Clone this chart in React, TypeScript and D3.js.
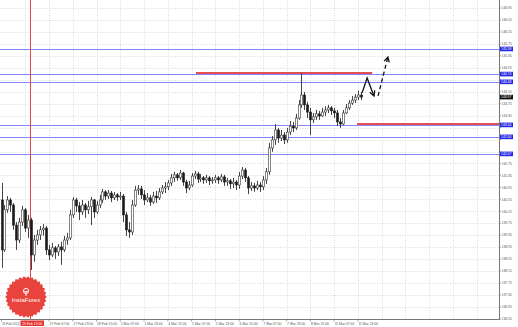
import React from "react";
import * as d3 from "d3";

// GBP/JPY style H2 candles (prices)
const FIRST_OPEN = 140.53;
const CLOSE = [
  138.86, 140.2, 140.53, 140.36, 139.69, 139.19, 139.79, 140.2, 139.59, 139.86,
  138.69, 139.19, 139.36, 139.53, 139.59, 138.86, 138.69, 138.93, 138.79, 138.96,
  138.86, 139.19, 139.26, 140.03, 140.53, 140.33, 140.13, 140.36, 140.2, 140.3,
  140.53, 140.13, 140.36, 140.53, 140.8, 140.66, 140.76, 140.6, 140.7, 140.63,
  140.66, 140.03, 139.53, 139.46, 140.36, 140.86, 140.9, 140.7, 140.53, 140.6,
  140.46, 140.66, 140.6, 140.8, 140.93, 140.97, 141.1, 141.27, 141.37, 141.27,
  141.43, 141.13, 140.93, 141.03, 141.33, 141.4, 141.23, 141.27, 141.2, 141.27,
  141.17, 141.2, 141.27, 141.2, 141.3, 141.13, 141.17, 141.07, 141.13, 141.03,
  141.33, 141.53, 141.27, 140.93, 141.0, 140.93, 141.03, 140.97, 141.2, 141.47,
  142.27, 142.54, 142.87, 142.6, 142.7, 142.54, 142.8, 143.0, 142.94, 143.27,
  143.71, 144.04, 143.71, 143.47, 143.21, 143.31, 143.41, 143.34, 143.47, 143.54,
  143.61, 143.51, 143.44, 143.14, 143.07, 143.44, 143.61, 143.77, 143.87, 143.97,
  144.04, 143.97,
];
const HIGH = [
  141.1, 140.36, 140.66, 140.6, 140.43, 139.79, 139.93, 140.33, 140.26, 140.03,
  139.93, 139.36, 139.53, 139.66, 139.73, 139.66, 139.03, 139.09, 138.99, 139.06,
  139.13, 139.33, 139.43, 140.2, 140.63, 140.6, 140.46, 140.53, 140.43, 140.5,
  140.63, 140.56, 140.5, 140.7, 140.9, 140.86, 140.86, 140.83, 140.8, 140.76,
  140.8, 140.73, 140.13, 139.79, 140.53, 141.0, 141.03, 141.0, 140.86, 140.76,
  140.7, 140.8, 140.83, 140.93, 141.03, 141.13, 141.2, 141.4, 141.47, 141.43,
  141.53, 141.47, 141.2, 141.17, 141.43, 141.5, 141.47, 141.4, 141.33, 141.37,
  141.33, 141.3, 141.37, 141.33, 141.4, 141.37, 141.27, 141.23, 141.27, 141.2,
  141.47, 141.63, 141.6, 141.33, 141.13, 141.1, 141.17, 141.13, 141.33, 141.6,
  142.44, 142.67, 143.07, 142.94, 142.87, 142.8, 142.94, 143.17, 143.14, 143.41,
  143.87, 144.78, 144.14, 143.81, 143.61, 143.44, 143.54, 143.51, 143.61, 143.67,
  143.71, 143.67, 143.61, 143.54, 143.27, 143.54, 143.74, 143.87, 144.01, 144.07,
  144.18, 144.14,
];
const LOW = [
  138.26, 138.79, 140.1, 140.13, 139.53, 138.86, 139.09, 139.66, 139.46, 139.26,
  138.19, 138.46, 139.03, 139.19, 139.33, 138.69, 138.52, 138.62, 138.56, 138.66,
  138.36, 138.79, 139.03, 139.19, 139.93, 140.13, 139.86, 140.03, 139.93, 140.06,
  139.69, 139.93, 140.06, 140.26, 140.43, 140.53, 140.56, 140.46, 140.53, 140.5,
  140.53, 139.79, 139.33, 139.26, 139.36, 140.3, 140.7, 140.56, 140.36, 140.46,
  140.33, 140.4, 140.43, 140.53, 140.73, 140.76, 140.86, 141.0, 141.13, 141.17,
  141.2, 141.0, 140.76, 140.86, 140.97, 141.23, 141.1, 141.13, 141.07, 141.1,
  141.03, 141.07, 141.1, 141.07, 141.13, 141.0, 141.0, 140.9, 140.93, 140.86,
  140.9, 141.23, 141.13, 140.73, 140.83, 140.8, 140.86, 140.8, 140.86, 141.07,
  141.37, 142.14, 142.37, 142.44, 142.5, 142.4, 142.44, 142.7, 142.8, 142.87,
  143.21, 143.61, 143.54, 143.27, 142.7, 143.1, 143.21, 143.21, 143.31, 143.34,
  143.44, 143.37, 143.27, 143.0, 142.94, 143.04, 143.41, 143.54, 143.71, 143.77,
  143.87, 143.87,
];

const PRICE_TICKS = [
  146.95, 146.55, 146.15, 145.75, 145.35, 144.95, 144.55, 144.15, 143.75,
  143.35, 142.95, 142.55, 142.15, 141.75, 141.35, 140.95, 140.55, 140.15,
  139.75, 139.35, 138.95, 138.55, 138.15, 137.75, 137.35, 136.95, 136.55,
];
const TIME_LABELS = [
  "26 Feb 2013", "26 Feb 15:00", "27 Feb 07:00", "27 Feb 23:00", "28 Feb 15:00",
  "1 Mar 07:00", "1 Mar 23:00", "4 Mar 15:00", "5 Mar 07:00", "5 Mar 23:00",
  "6 Mar 15:00", "7 Mar 07:00", "7 Mar 23:00", "8 Mar 15:00", "11 Mar 07:00",
  "11 Mar 23:00",
];
const BARS_PER_LABEL = 8;
const LEVELS = [145.58, 144.74, 144.48, 143.04, 142.64, 142.07];
const LAST_PRICE = 143.97;
const RED_LEVELS = [
  { price: 144.78, from: 65.5, to: 124.8 },
  { price: 143.07, from: 119.7, to: 170 },
];
const VLINE_BAR = 9.6;
const VLINE_LABEL = "26 Feb 19:00";
const ARROW_SOLID: [number, number][] = [
  [121.4, 144.11],
  [123.1, 144.61],
  [125.4, 144.01],
];
const ARROW_DASHED: [number, number][] = [
  [126.8, 144.01],
  [130.1, 145.31],
];

const W = 518;
const H = 327;
const RIGHT = 499;
const BOTTOM = 319.5;

export default function App() {
  const x = d3.scaleLinear().domain([0, 121]).range([1.5, 1.5 + 121 * 2.97]);
  const y = d3
    .scaleLinear()
    .domain([146.95, 136.55])
    .range([8, 8 + 26 * 11.96]);

  const candles = CLOSE.map((c, i) => {
    const o = i === 0 ? FIRST_OPEN : CLOSE[i - 1];
    const h = Math.max(HIGH[i], o, c);
    const l = Math.min(LOW[i], o, c);
    return { i, o, h, l, c };
  });

  const gridBars: number[] = [];
  for (let k = 0; x(k * BARS_PER_LABEL) < RIGHT; k++) gridBars.push(k * BARS_PER_LABEL);

  const line = d3
    .line<[number, number]>()
    .x((d) => x(d[0]))
    .y((d) => y(d[1]));

  const arrowHead = (pts: [number, number][]) => {
    const a = pts[pts.length - 2];
    const b = pts[pts.length - 1];
    const x1 = x(a[0]), y1 = y(a[1]), x2 = x(b[0]), y2 = y(b[1]);
    const ang = Math.atan2(y2 - y1, x2 - x1);
    const L = 5.5;
    const p1 = [x2 - L * Math.cos(ang - 0.5), y2 - L * Math.sin(ang - 0.5)];
    const p2 = [x2 - L * Math.cos(ang + 0.5), y2 - L * Math.sin(ang + 0.5)];
    return `M${p1[0]},${p1[1]}L${x2},${y2}L${p2[0]},${p2[1]}`;
  };

  // seal logo
  const sealCx = 26, sealCy = 297;
  const sealPts: [number, number][] = [];
  const teeth = 30;
  for (let k = 0; k < teeth * 2; k++) {
    const r = k % 2 === 0 ? 20.8 : 19;
    const a = (Math.PI * k) / teeth;
    sealPts.push([sealCx + r * Math.cos(a), sealCy + r * Math.sin(a)]);
  }

  const fontFamily = "'Liberation Sans', Arial, sans-serif";
  const vx = x(VLINE_BAR);
  const boxYs = [...LEVELS, LAST_PRICE].map((p) => y(p));
  const tickVisible = (p: number) => boxYs.every((by) => Math.abs(by - y(p)) > 4.2);
  const labelVisible = (k: number) => Math.abs(x(k * BARS_PER_LABEL) - vx) > 16;
  const redBoxX = 20.5;
  const redBoxW = 23.5;

  return (
    <svg
      width={W}
      height={H}
      style={{ position: "absolute", left: 0, top: 0, background: "#fff" }}
    >
      <defs>
        <clipPath id="plot">
          <rect x={0} y={0} width={RIGHT} height={BOTTOM} />
        </clipPath>
      </defs>
      <rect width={W} height={H} fill="#fff" />
      {/* grid */}
      <g stroke="#d2d2d2" strokeWidth={0.8} strokeDasharray="1,1.5">
        {PRICE_TICKS.map((p) => (
          <line key={p} x1={0} x2={RIGHT} y1={Math.round(y(p)) + 0.5} y2={Math.round(y(p)) + 0.5} />
        ))}
        {gridBars.slice(1).map((b) => (
          <line key={b} x1={Math.round(x(b)) + 0.5} x2={Math.round(x(b)) + 0.5} y1={0} y2={BOTTOM} />
        ))}
      </g>
      <g clipPath="url(#plot)">
        {/* levels */}
        {LEVELS.map((p) => (
          <line key={p} x1={0} x2={RIGHT} y1={Math.round(y(p)) + 0.5} y2={Math.round(y(p)) + 0.5} stroke="#8585f7" strokeWidth={1} />
        ))}
        {RED_LEVELS.map((r, k) => (
          <line key={k} x1={x(r.from)} x2={Math.min(RIGHT, x(r.to))} y1={y(r.price)} y2={y(r.price)} stroke="#e2504f" strokeWidth={2} />
        ))}
        {/* vertical red line */}
        <line x1={Math.round(vx) + 0.5} x2={Math.round(vx) + 0.5} y1={0} y2={BOTTOM} stroke="#e04848" strokeWidth={1} />
        {/* candles */}
        {candles.map((d) => {
          const cx = Math.round(x(d.i)) + 0.5;
          const top = y(Math.max(d.o, d.c));
          const bot = y(Math.min(d.o, d.c));
          const bull = d.c >= d.o;
          return (
            <g key={d.i}>
              <line x1={cx} x2={cx} y1={y(d.h)} y2={y(d.l)} stroke="#454545" strokeWidth={1} />
              <rect
                x={cx - 1}
                y={top}
                width={2}
                height={Math.max(1, bot - top)}
                fill={bull ? "#ffffff" : "#1a1a1a"}
                stroke={bull ? "#333" : "#1a1a1a"}
                strokeWidth={0.6}
              />
            </g>
          );
        })}
        {/* hand-drawn arrows */}
        <path d={line(ARROW_SOLID) || ""} fill="none" stroke="#111" strokeWidth={1.3} />
        <path d={arrowHead(ARROW_SOLID)} fill="none" stroke="#111" strokeWidth={1.3} />
        <path d={line(ARROW_DASHED) || ""} fill="none" stroke="#111" strokeWidth={1.3} strokeDasharray="4,3" />
        <path d={arrowHead(ARROW_DASHED)} fill="none" stroke="#111" strokeWidth={1.3} />
      </g>
      {/* axes */}
      <line x1={RIGHT + 0.5} x2={RIGHT + 0.5} y1={0} y2={BOTTOM + 0.5} stroke="#777" strokeWidth={1} />
      <line x1={0} x2={RIGHT + 0.5} y1={BOTTOM} y2={BOTTOM} stroke="#777" strokeWidth={1} />
      <g fontFamily={fontFamily} fontSize={3.4} fill="#555">
        {PRICE_TICKS.map((p) => (
          <g key={p}>
            <line x1={RIGHT} x2={RIGHT + 2} y1={y(p)} y2={y(p)} stroke="#777" strokeWidth={0.6} />
            {tickVisible(p) && (
              <text x={RIGHT + 2.5} y={y(p) + 1.2}>
                {p.toFixed(2)}
              </text>
            )}
          </g>
        ))}
        {TIME_LABELS.map((t, k) => {
          const bx = x(k * BARS_PER_LABEL);
          return (
            <g key={t}>
              <line x1={bx} x2={bx} y1={BOTTOM} y2={BOTTOM + 2} stroke="#777" strokeWidth={0.6} />
              {labelVisible(k) && (
                <text x={bx + 0.5} y={325} fontSize={k === 0 ? 3.1 : 3.4}>
                  {t}
                </text>
              )}
            </g>
          );
        })}
      </g>
      {/* level labels */}
      <g fontFamily={fontFamily} fontSize={3.4}>
        {LEVELS.map((p) => (
          <g key={p}>
            <rect x={RIGHT + 1} y={y(p) - 2.3} width={13} height={4.6} fill="#2326e8" />
            <text x={RIGHT + 2} y={y(p) + 1.2} fill="#fff">
              {p.toFixed(2)}
            </text>
          </g>
        ))}
        <rect x={RIGHT + 1} y={y(LAST_PRICE) - 2.3} width={13} height={4.6} fill="#111" />
        <text x={RIGHT + 2} y={y(LAST_PRICE) + 1.2} fill="#fff">
          {LAST_PRICE.toFixed(2)}
        </text>
      </g>
      {/* seal logo */}
      <polygon points={sealPts.map((p) => p.join(",")).join(" ")} fill="#e8433d" />
      <g stroke="#fff" fill="none" strokeWidth={0.9}>
        <circle cx={sealCx} cy={sealCy - 6} r={2.6} />
        <line x1={sealCx} x2={sealCx} y1={sealCy - 5} y2={sealCy - 1} />
        <line x1={sealCx - 1.8} x2={sealCx + 1.8} y1={sealCy - 5.5} y2={sealCy - 5.5} />
      </g>
      <text x={sealCx} y={sealCy + 5} textAnchor="middle" fontFamily={fontFamily} fontSize={6} fill="#fff">
        InstaForex
      </text>
      {/* vertical line time label */}
      <rect x={redBoxX} y={BOTTOM + 1} width={redBoxW} height={5.5} fill="#e8322f" />
      <text x={redBoxX + redBoxW / 2} y={325} textAnchor="middle" fontFamily={fontFamily} fontSize={3.4} fill="#fff">
        {VLINE_LABEL}
      </text>
    </svg>
  );
}
